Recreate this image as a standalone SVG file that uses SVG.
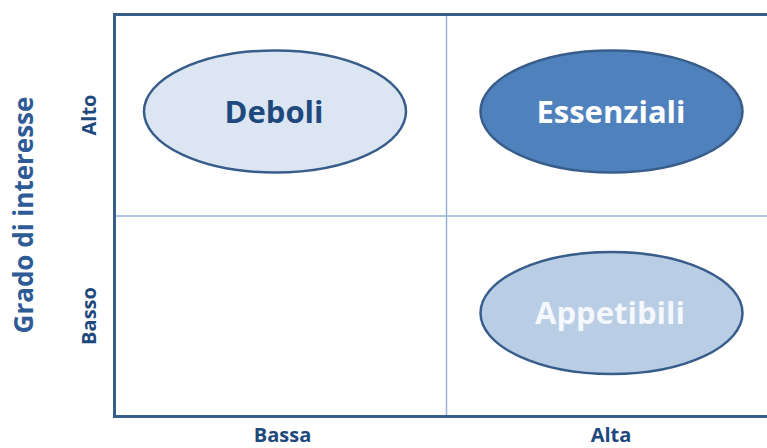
<svg xmlns="http://www.w3.org/2000/svg" width="767" height="448" viewBox="0 0 767 448">
<style>
.lbl{font-family:"Open Sans","Noto Sans","Liberation Sans",sans-serif;font-weight:bold;}
.axis{font-size:20px;fill:#1F497D;}
.node{stroke:#385D8A;stroke-width:2.5;}
.ntext{font-size:31px;text-anchor:middle;}
</style>
<rect width="767" height="448" fill="#FFFFFF"/>
<g id="grid">
<line x1="115" y1="216" x2="767" y2="216" stroke="#95B3D7" stroke-width="1.5"/>
<line x1="446.5" y1="15" x2="446.5" y2="416" stroke="#95B3D7" stroke-width="1.5"/>
<rect x="114.5" y="14.5" width="700" height="402" fill="none" stroke="#385D8A" stroke-width="3"/>
</g>
<g id="axis-labels">
<text class="lbl" transform="translate(33,215) rotate(-90)" text-anchor="middle" font-size="26" fill="#2E5A96">Grado di interesse</text>
<text class="lbl axis" transform="translate(96,115) rotate(-90)" text-anchor="middle">Alto</text>
<text class="lbl axis" transform="translate(96,316) rotate(-90)" text-anchor="middle">Basso</text>
<text class="lbl axis" x="282.5" y="442" text-anchor="middle">Bassa</text>
<text class="lbl axis" x="611" y="442" text-anchor="middle">Alta</text>
</g>
<g id="deboli">
<ellipse class="node" cx="275" cy="111.5" rx="131" ry="61" fill="#DCE6F2"/>
<text class="lbl ntext" x="274" y="122.5" fill="#1F497D">Deboli</text>
</g>
<g id="essenziali">
<ellipse class="node" cx="611.5" cy="111.5" rx="131" ry="61" fill="#4F81BD"/>
<text class="lbl ntext" x="611" y="122.5" fill="#FFFFFF">Essenziali</text>
</g>
<g id="appetibili">
<ellipse class="node" cx="611.5" cy="313" rx="131" ry="61" fill="#B9CDE5"/>
<text class="lbl ntext" x="610" y="324" fill="#F4F7FB">Appetibili</text>
</g>
</svg>
